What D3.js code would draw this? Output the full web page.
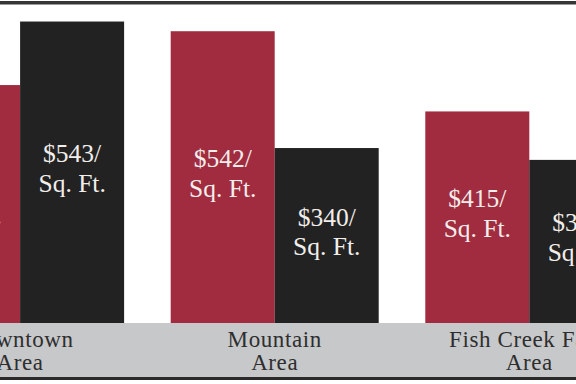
<!DOCTYPE html>
<html>
<head>
<meta charset="utf-8">
<script src="https://cdn.jsdelivr.net/npm/d3@7"></script>
<style>
  body { margin: 0; background: #fff; }
  svg { display: block; }
</style>
</head>
<body>
<svg id="chart"></svg>
<script>
// categories (two lines each)
const categories = ["Downtown Area", "Mountain Area", "Fish Creek Falls Area"];
const catLines = [["Downtown", "Area"], ["Mountain", "Area"], ["Fish Creek Falls", "Area"]];

// bar heights as drawn (price-like units)
const redValues = [442, 542, 393];
const blackValues = [560, 325, 303];

// prices printed inside the bars
const redPrices = [440, 542, 415];
const blackPrices = [543, 340, 305];

const width = 576;
const height = 384;
const baseY = 323;

const svg = d3.select("#chart")
  .attr("width", width)
  .attr("height", height);

// scales
const x0 = d3.scaleBand()
  .domain(categories)
  .range([-107.2, 656.6])
  .paddingInner(0.183)
  .paddingOuter(0.0915);

const x1 = d3.scaleBand()
  .domain(["red", "black"])
  .range([0, x0.bandwidth()]);

const y = d3.scaleLinear()
  .domain([0, 600])
  .range([baseY, 0]);

const colors = { red: "#a12c40", black: "#222222" };

// gray band under bars
svg.append("rect")
  .attr("x", 0).attr("y", baseY)
  .attr("width", width).attr("height", 377 - baseY)
  .attr("fill", "#c7c8ca");

// frame lines
svg.append("rect")
  .attr("x", 0).attr("y", 1)
  .attr("width", width).attr("height", 3.5)
  .attr("fill", "#363636");
svg.append("rect")
  .attr("x", 0).attr("y", 377)
  .attr("width", width).attr("height", 3)
  .attr("fill", "#2a2a2a");

const rows = categories.map((c, i) => ({
  cat: c,
  bars: [
    { key: "red", value: redValues[i], price: redPrices[i] },
    { key: "black", value: blackValues[i], price: blackPrices[i] }
  ]
}));

const groups = svg.selectAll("g.group")
  .data(rows)
  .enter()
  .append("g")
  .attr("class", "group")
  .attr("transform", d => "translate(" + x0(d.cat) + ",0)");

groups.selectAll("rect")
  .data(d => d.bars)
  .enter()
  .append("rect")
  .attr("x", d => x1(d.key))
  .attr("y", d => y(d.value))
  .attr("width", x1.bandwidth())
  .attr("height", d => baseY - y(d.value))
  .attr("fill", d => colors[d.key]);

// price labels inside bars
const lbl = groups.selectAll("text.price")
  .data(d => d.bars)
  .enter()
  .append("text")
  .attr("class", "price")
  .attr("text-anchor", "middle")
  .attr("font-family", "'Liberation Serif', serif")
  .attr("font-size", 25.5)
  .attr("fill", "#f2eeeb")
  .attr("transform", d => {
    const mid = (y(d.value) + baseY) / 2;
    return "translate(" + (x1(d.key) + x1.bandwidth() / 2) + "," + (mid - 10) + ")";
  });

lbl.append("tspan").attr("x", 0).attr("y", 0).text(d => "$" + d.price + "/");
lbl.append("tspan").attr("x", 0).attr("y", 29.5).text("Sq. Ft.");

// category labels
const cl = svg.selectAll("text.cat")
  .data(categories)
  .enter()
  .append("text")
  .attr("class", "cat")
  .attr("text-anchor", "middle")
  .attr("font-family", "'Liberation Serif', serif")
  .attr("font-size", 23)
  .attr("letter-spacing", 0.6)
  .attr("fill", "#2e2e2e")
  .attr("transform", d => "translate(" + (x0(d) + x0.bandwidth() / 2) + ",0)");

cl.append("tspan").attr("x", 0).attr("y", 346.5).text((d, i) => catLines[i][0]);
cl.append("tspan").attr("x", 0).attr("y", 370).text((d, i) => catLines[i][1]);
</script>
</body>
</html>
